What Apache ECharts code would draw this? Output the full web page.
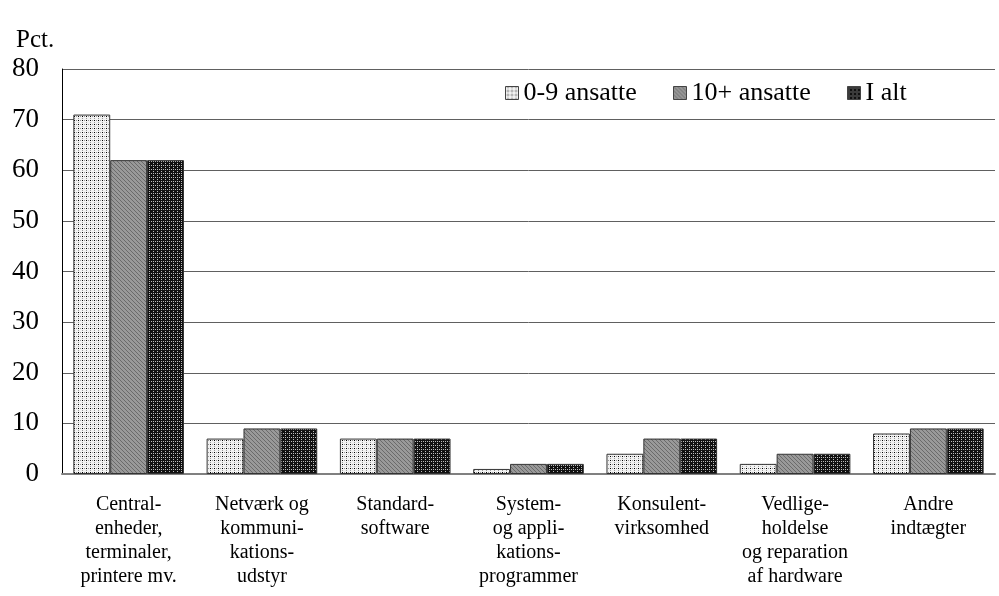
<!DOCTYPE html>
<html><head><meta charset="utf-8">
<script src="https://cdn.jsdelivr.net/npm/echarts@6/dist/echarts.min.js"></script>
<style>html,body{margin:0;padding:0;background:#fff}#c{width:999px;height:596px}</style>
</head><body><div id="c"></div>
<script>
const categories = ["Central-\nenheder,\nterminaler,\nprintere mv.", "Netværk og\nkommuni-\nkations-\nudstyr", "Standard-\nsoftware", "System-\nog appli-\nkations-\nprogrammer", "Konsulent-\nvirksomhed", "Vedlige-\nholdelse\nog reparation\naf hardware", "Andre\nindtægter"];
const seriesNames = ["0-9 ansatte", "10+ ansatte", "I alt"];
const small = [71, 7, 7, 1, 4, 2, 8];
const large = [62, 9, 7, 2, 7, 4, 9];
const total = [62, 9, 7, 2, 7, 4, 9];

function pattern(kind){
  const c = document.createElement('canvas');
  c.width = 4; c.height = 4;
  const g = c.getContext('2d');
  if (kind === 0){
    g.fillStyle = '#f2f2f2'; g.fillRect(0,0,4,4);
    g.fillStyle = '#9a9a9a'; g.fillRect(0,0,1,1); g.fillRect(2,2,1,1);
    g.fillStyle = '#000'; g.fillRect(2,0,1,1);
  } else if (kind === 1){
    g.fillStyle = '#999'; g.fillRect(0,0,4,4);
    g.fillStyle = '#6a6a6a'; g.fillRect(0,0,1,1); g.fillRect(2,2,1,1); g.fillRect(1,1,1,1); g.fillRect(3,3,1,1);
  } else {
    g.fillStyle = '#111'; g.fillRect(0,0,4,4);
    g.fillStyle = '#bbb'; g.fillRect(1,1,1,1); g.fillRect(3,1,1,1); g.fillRect(1,3,1,1);
  }
  return {image: c, repeat: 'repeat'};
}
const fills = [pattern(0), pattern(1), pattern(2)];
const font = '"Liberation Serif", "DejaVu Serif", serif';
const legendLefts = [505, 673, 847];

const chart = echarts.init(document.getElementById('c'), null, {renderer: 'canvas'});
const data = [small, large, total];
chart.setOption({
  animation: false,
  backgroundColor: '#fff',
  textStyle: {fontFamily: font, color: '#000'},
  title: {text: 'Pct.', left: 11, top: 23, textStyle: {fontFamily: font, fontSize: 25, fontWeight: 'normal', color: '#000'}},
  legend: seriesNames.map((n,i)=>({
    left: legendLefts[i], top: 80, itemWidth: 13, itemHeight: 13, padding: 0,
    textStyle: {fontFamily: font, fontSize: 26, color: '#000'},
    data: [{name: n, icon: 'rect', itemStyle: {color: fills[i], borderColor: '#444', borderWidth: 1}}]
  })),
  grid: {left: 62, right: 4, top: 69, bottom: 122, containLabel: false},
  xAxis: {
    type: 'category', data: categories,
    axisLine: {show: true, lineStyle: {color: '#808080', width: 2}},
    axisTick: {show: false},
    axisLabel: {fontFamily: font, fontSize: 20, color: '#000', lineHeight: 24, margin: 19, interval: 0}
  },
  yAxis: {
    type: 'value', min: 0, max: 80, interval: 10,
    axisLine: {show: true, lineStyle: {color: '#000', width: 1}},
    axisTick: {show: false},
    splitLine: {lineStyle: {color: '#606060', width: 1}},
    axisLabel: {fontFamily: font, fontSize: 27, color: '#000', margin: 23}
  },
  series: seriesNames.map((n,i)=>({
    name: n, type: 'bar', data: data[i],
    barGap: '0%', barCategoryGap: '17%',
    itemStyle: {color: fills[i], borderColor: '#333', borderWidth: 1}
  }))
});
</script></body></html>
